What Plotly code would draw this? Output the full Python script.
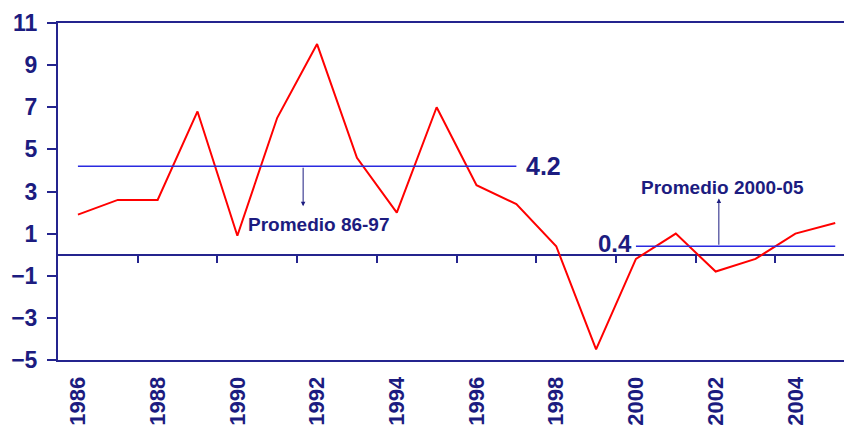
import plotly.graph_objects as go

# Annual series, 1986-2005
years = list(range(1986, 2006))
values = [1.9, 2.6, 2.6, 6.8, 0.9, 6.5, 10.0, 4.6, 2.0, 7.0,
          3.3, 2.4, 0.4, -4.5, -0.2, 1.0, -0.8, -0.2, 1.0, 1.5]

label_years = list(range(1986, 2005, 2))
y_ticks = list(range(-5, 12, 2))
period_a = (1986, 1997)
period_b = (2000, 2005)

NAVY = "#1c1c80"
LINE_NAVY = "#24248e"
AVG_BLUE = "#2a2ae0"
FONT = "Liberation Sans, Arial, sans-serif"

def period_mean(lo, hi):
    sel = [v for y, v in zip(years, values) if lo <= y <= hi]
    return round(sum(sel) / len(sel), 1)

avg_a = period_mean(*period_a)
avg_b = period_mean(*period_b)

y_min, y_max = -5, 11
x_range = [1985.5, 2005.22]

fig = go.Figure()

fig.add_trace(go.Scatter(
    x=years, y=values, mode="lines",
    line=dict(color="#ff0000", width=2), hoverinfo="x+y",
))

# period averages (drawn on the overlay axis that carries the zero-line ticks)
fig.add_trace(go.Scatter(
    x=list(period_a), y=[avg_a, avg_a], mode="lines", xaxis="x2",
    line=dict(color=AVG_BLUE, width=1.6), hoverinfo="skip",
))
fig.add_trace(go.Scatter(
    x=list(period_b), y=[avg_b, avg_b], mode="lines", xaxis="x2",
    line=dict(color=AVG_BLUE, width=1.6), hoverinfo="skip",
))

annotations = [
    dict(x=period_a[1], y=avg_a, xref="x", yref="y", text=f"<b>{avg_a}</b>",
         showarrow=False, xanchor="left", yanchor="middle", xshift=8, yshift=0,
         font=dict(family=FONT, size=25, color=NAVY)),
    dict(x=period_b[0], y=avg_b, xref="x", yref="y", text=f"<b>{avg_b}</b>",
         showarrow=False, xanchor="right", yanchor="middle", xshift=-2, yshift=3,
         font=dict(family=FONT, size=24, color=NAVY)),
    dict(x=1992.05, y=1.45, xref="x", yref="y", text="<b>Promedio 86-97</b>",
         showarrow=False, xanchor="center", yanchor="middle",
         font=dict(family=FONT, size=19, color=NAVY)),
    dict(x=2002.16, y=3.17, xref="x", yref="y", text="<b>Promedio 2000-05</b>",
         showarrow=False, xanchor="center", yanchor="middle",
         font=dict(family=FONT, size=19, color=NAVY)),
    # pointer arrows from the average lines to their captions
    dict(x=1991.65, y=2.3, ax=1991.65, ay=avg_a, xref="x", yref="y",
         axref="x", ayref="y", text="", showarrow=True, arrowhead=2,
         arrowsize=0.9, arrowwidth=1, arrowcolor=NAVY, standoff=0, startstandoff=0),
    dict(x=2002.08, y=2.67, ax=2002.08, ay=avg_b, xref="x", yref="y",
         axref="x", ayref="y", text="", showarrow=True, arrowhead=2,
         arrowsize=0.9, arrowwidth=1, arrowcolor=NAVY, standoff=0, startstandoff=0),
]

fig.update_layout(
    width=844, height=430,
    margin=dict(l=58, r=0, t=23, b=70),
    paper_bgcolor="white", plot_bgcolor="white",
    showlegend=False,
    annotations=annotations,
    xaxis=dict(
        range=x_range, tickmode="array", tickvals=label_years,
        ticktext=[str(y) for y in label_years], tickangle=-90,
        tickfont=dict(family=FONT, size=22, color=NAVY, weight="bold"),
        ticks="", showgrid=False, zeroline=False,
        showline=True, linecolor=LINE_NAVY, linewidth=2, mirror=True,
        ticklabelstandoff=6, automargin=False,
    ),
    xaxis2=dict(
        overlaying="x", anchor="free",
        position=(0 - y_min) / (y_max - y_min),
        range=x_range, tickmode="array",
        tickvals=[y + 1.5 for y in label_years[:-1]],
        ticks="outside", ticklen=7, tickwidth=2, tickcolor=LINE_NAVY,
        showticklabels=False, showgrid=False, zeroline=False, showline=False,
        automargin=False,
    ),
    yaxis=dict(
        range=[y_min, y_max], tickmode="array", tickvals=y_ticks,
        tickfont=dict(family=FONT, size=23, color=NAVY, weight="bold"),
        ticks="outside", ticklen=9, tickwidth=2, tickcolor=LINE_NAVY,
        showline=True, linecolor=LINE_NAVY, linewidth=2,
        showgrid=False, zeroline=True, zerolinecolor=LINE_NAVY, zerolinewidth=2,
        ticklabelstandoff=5, automargin=False,
    ),
)

fig.write_html("out.html")
